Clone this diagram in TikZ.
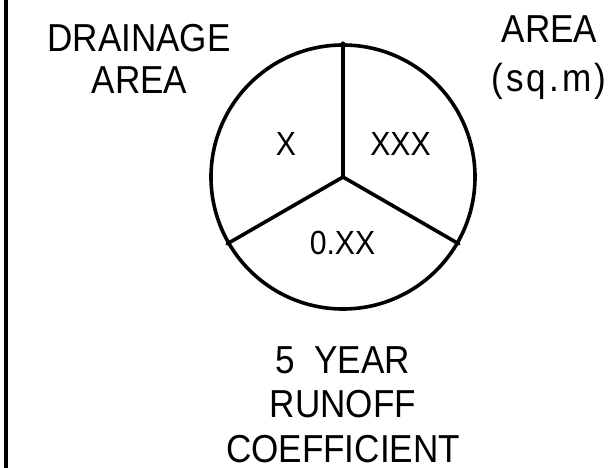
\documentclass[tikz,border=0pt]{standalone}
\usepackage{fontspec}
\newfontfamily\lblfont[FakeStretch=0.9]{Liberation Sans}
\newfontfamily\lblwide[FakeStretch=0.9,LetterSpace=8]{Liberation Sans}
\tikzset{
  lbl/.style={font=\lblfont\fontsize{39}{44}\selectfont, anchor=base, inner sep=0pt},
  inlbl/.style={font=\lblfont\fontsize{33.5}{38}\selectfont, anchor=base, inner sep=0pt},
  stroke/.style={line width=3.6pt, line cap=round}
}
\begin{document}
\begin{tikzpicture}[x=1pt,y=-1pt]
\useasboundingbox (0,0) rectangle (616,468);
% left border line
\coordinate (lt) at (6.3,-5);
\coordinate (lb) at (6.3,473);
\draw[line width=3.8pt] (lt) -- (lb);
% circle
\coordinate (c) at (343,177);
\node[circle, draw, line width=3.6pt, minimum size=264pt, inner sep=0pt] (circ) at (c) {};
\draw[stroke] (c) -- (circ.90);
\draw[stroke] (c) -- (circ.210);
\draw[stroke] (c) -- (circ.330);
% inner labels
\node[inlbl] (x1) at (286,156) {X};
\node[inlbl] (x3) at (400.5,156) {XXX};
\node[inlbl] (coef) at (342.5,254) {0.XX};
% outer labels
\node[lbl] (dr1) at (139,52) {DRAINAGE};
\node[lbl] (dr2) at (139.5,94) {AREA};
\node[lbl] (ar1) at (549.5,43) {AREA};
\node[lbl, font=\lblwide\fontsize{39}{44}\selectfont] (ar2) at (549,92) {(sq.m)};
\node[lbl] (b1) at (342.5,373) {5\ \ YEAR};
\node[lbl] (b2) at (343,417) {RUNOFF};
\node[lbl] (b3) at (343,462) {COEFFICIENT};
\end{tikzpicture}
\end{document}
